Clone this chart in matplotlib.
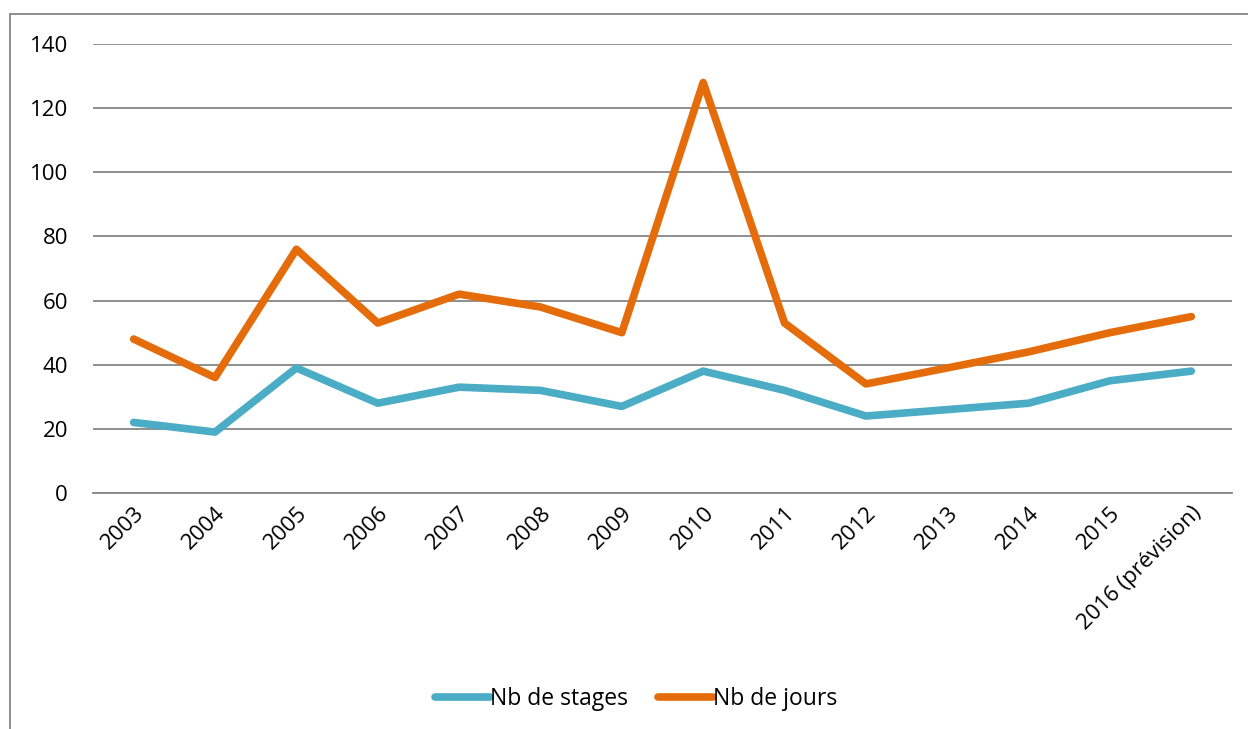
import matplotlib.pyplot as plt
from matplotlib.patches import Rectangle

years = ["2003", "2004", "2005", "2006", "2007", "2008", "2009", "2010",
         "2011", "2012", "2013", "2014", "2015", "2016 (prévision)"]
nb_stages = [22, 19, 39, 28, 33, 32, 27, 38, 32, 24, 26, 28, 35, 38]
nb_jours = [48, 36, 76, 53, 62, 58, 50, 128, 53, 34, 39, 44, 50, 55]

plt.rcParams['font.family'] = ['Open Sans', 'DejaVu Sans']

fig = plt.figure(figsize=(12.48, 7.29), dpi=100)
ax = fig.add_axes([93 / 1248, 1 - 493 / 729, (1232 - 93) / 1248, (493 - 44) / 729])

x = range(len(years))
ax.plot(x, nb_stages, color='#4BACC6', lw=5.5, solid_capstyle='round',
        solid_joinstyle='round', label='Nb de stages')
ax.plot(x, nb_jours, color='#E46C0A', lw=5.5, solid_capstyle='round',
        solid_joinstyle='round', label='Nb de jours')

ax.set_xlim(-0.5, len(years) - 0.5)
ax.set_ylim(0, 140)
ax.set_yticks(range(0, 141, 20))
ax.yaxis.grid(True, color='#868686', lw=1.3)
ax.set_axisbelow(True)
for s in ['top', 'right', 'left']:
    ax.spines[s].set_visible(False)
ax.spines['bottom'].set_color('#868686')
ax.spines['bottom'].set_linewidth(1.3)
ax.tick_params(axis='both', length=0, labelsize=16, pad=18)
ax.tick_params(axis='x', pad=7)
ax.set_xticks(list(x))
ax.set_xticklabels(years, rotation=45, ha='right', va='top',
                   rotation_mode='anchor')

ax.legend(loc='center', bbox_to_anchor=(0.51, 1 - 699 / 729), bbox_transform=fig.transFigure,
          ncol=2, frameon=False, fontsize=16.5, handlelength=2.4, handletextpad=0.0,
          columnspacing=1.3)

# outer chart border (left and top visible)
fig.add_artist(Rectangle((10 / 1248, -0.01), 1.2, 1 - 14 / 729 + 0.01,
                         transform=fig.transFigure, fill=False,
                         edgecolor='#868686', lw=1.3))

fig.savefig('out.png', dpi=100)
